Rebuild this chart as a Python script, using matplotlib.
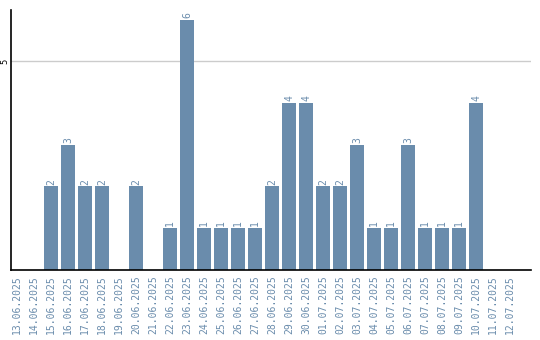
import matplotlib
matplotlib.use("Agg")
import matplotlib.pyplot as plt

dates = ["13.06.2025","14.06.2025","15.06.2025","16.06.2025","17.06.2025","18.06.2025",
         "19.06.2025","20.06.2025","21.06.2025","22.06.2025","23.06.2025","24.06.2025",
         "25.06.2025","26.06.2025","27.06.2025","28.06.2025","29.06.2025","30.06.2025",
         "01.07.2025","02.07.2025","03.07.2025","04.07.2025","05.07.2025","06.07.2025",
         "07.07.2025","08.07.2025","09.07.2025","10.07.2025","11.07.2025","12.07.2025"]
counts = [0,0,2,3,2,2,0,2,0,1,6,1,1,1,1,2,4,4,2,2,3,1,1,3,1,1,1,4,0,0]

bar_color = "#6a8cac"
fig = plt.figure(figsize=(5.4, 3.4), dpi=100)
ax = fig.add_axes([10.5/540, 1 - 269.5/340, 520/540, 259.5/340])
x = list(range(len(dates)))
ax.bar(x, counts, width=0.82, color=bar_color, zorder=2)
for xi, v in zip(x, counts):
    if v > 0:
        ax.text(xi, v + 0.04, str(v), rotation=90, ha="center", va="bottom",
                fontsize=7, color=bar_color, family="DejaVu Sans Mono")
ax.set_xlim(-0.4, 30.2)
ax.set_ylim(0, 6.23)
ax.set_yticks([5])
ax.set_yticklabels(["5"], rotation=90, va="center", fontsize=6)
ax.axhline(5, color="#cccccc", lw=1, zorder=1)
ax.set_xticks(x)
ax.set_xticklabels(dates, rotation=90, fontsize=7, color=bar_color, family="DejaVu Sans Mono")
ax.tick_params(axis="x", length=0, pad=4)
ax.tick_params(axis="y", length=0, pad=1)
for s in ["top", "right"]:
    ax.spines[s].set_visible(False)
for s in ["left", "bottom"]:
    ax.spines[s].set_color("black")
    ax.spines[s].set_linewidth(1.2)
fig.savefig("out.png", dpi=100)
